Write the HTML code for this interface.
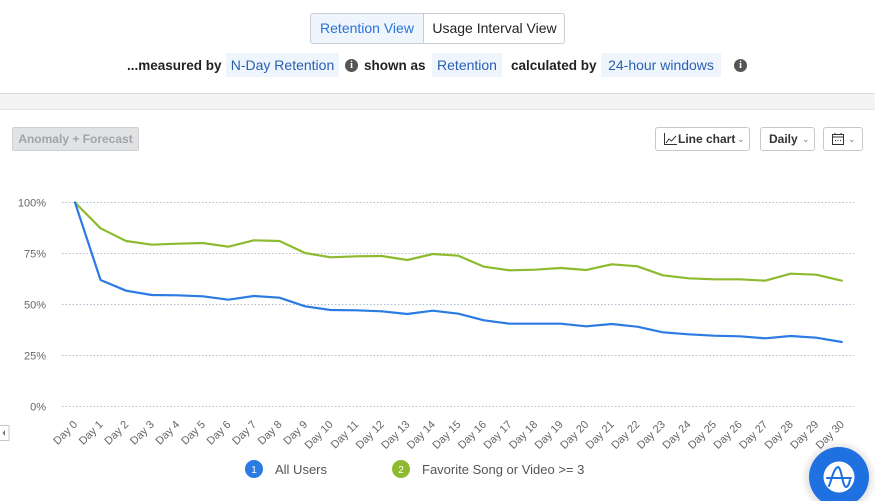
<!DOCTYPE html>
<html>
<head>
<meta charset="utf-8">
<style>
  html,body{margin:0;padding:0;background:#fff;}
  body{width:875px;height:501px;position:relative;overflow:hidden;font-family:"Liberation Sans",sans-serif;}
  .abs{position:absolute;}
  .toggle{left:310px;top:13px;width:255px;height:31px;border:1px solid #c9ccd1;border-radius:3px;box-sizing:border-box;overflow:hidden;}
  .toggle .a{position:absolute;left:0;top:0;width:112px;height:29px;background:#eef5fd;border-right:1px solid #c9ccd1;color:#2a73d6;font-size:14px;line-height:29px;text-align:center;}
  .toggle .b{position:absolute;left:113px;top:0;width:141px;height:29px;color:#222;font-size:14px;line-height:29px;text-align:center;}
  .lbl{font-size:13.5px;font-weight:bold;color:#222;top:57px;line-height:17px;}
  .pill{top:53px;height:24px;background:#eef5fd;color:#2a5fb0;font-size:14px;line-height:24px;text-align:center;}
  .info{width:13px;height:13px;border-radius:50%;background:#555;color:#fff;font-size:10px;font-weight:bold;line-height:13px;text-align:center;top:59px;font-family:"Liberation Serif",serif;}
  .band{left:0;top:93px;width:875px;height:17px;background:#f4f4f4;border-top:1px solid #dcdcdc;border-bottom:1px solid #e6e6e6;box-sizing:border-box;}
  .btn{top:127px;height:24px;border:1px solid #c8c8c8;border-radius:3px;box-sizing:border-box;background:#fff;font-size:12px;font-weight:bold;color:#333;line-height:22px;}
</style>
</head>
<body>
<div class="abs toggle"><div class="a">Retention View</div><div class="b">Usage Interval View</div></div>

<div class="abs lbl" style="left:127px;">...measured by</div>
<div class="abs pill" style="left:226px;width:113px;">N-Day Retention</div>
<div class="abs info" style="left:345px;">i</div>
<div class="abs lbl" style="left:364px;">shown as</div>
<div class="abs pill" style="left:432px;width:70px;">Retention</div>
<div class="abs lbl" style="left:511px;">calculated by</div>
<div class="abs pill" style="left:601px;width:120px;">24-hour windows</div>
<div class="abs info" style="left:734px;">i</div>

<div class="abs band"></div>

<div class="abs" style="left:12px;top:127px;width:127px;height:24px;background:#e1e2e4;border:1px solid #cfd0d2;border-radius:2px;box-sizing:border-box;color:#a2a4a8;font-size:12px;font-weight:bold;line-height:22px;text-align:center;">Anomaly + Forecast</div>

<div class="abs btn" style="left:655px;width:95px;">
  <svg class="abs" style="left:8px;top:5px;" width="13" height="12" viewBox="0 0 13 12"><path d="M0.5 0 V11.5 H13" fill="none" stroke="#333" stroke-width="1"/><path d="M2 10 L5 6 L7.5 8 L12 3" fill="none" stroke="#333" stroke-width="1"/></svg>
  <span class="abs" style="left:22px;top:0;">Line chart</span>
  <span class="abs" style="left:81px;top:0;font-weight:normal;color:#777;font-size:9px;">&#8964;</span>
</div>
<div class="abs btn" style="left:760px;width:55px;">
  <span class="abs" style="left:8px;top:0;">Daily</span>
  <span class="abs" style="left:41px;top:0;font-weight:normal;color:#777;font-size:9px;">&#8964;</span>
</div>
<div class="abs btn" style="left:823px;width:40px;">
  <svg class="abs" style="left:8px;top:5px;" width="12" height="12" viewBox="0 0 12 12"><rect x="0.5" y="1.5" width="11" height="10" fill="none" stroke="#333" stroke-width="1"/><line x1="0.5" y1="4" x2="11.5" y2="4" stroke="#333"/><line x1="3" y1="0" x2="3" y2="2" stroke="#333"/><line x1="9" y1="0" x2="9" y2="2" stroke="#333"/><rect x="3" y="7" width="1" height="1" fill="#333"/><rect x="5.5" y="7" width="1" height="1" fill="#333"/><rect x="8" y="7" width="1" height="1" fill="#333"/></svg>
  <span class="abs" style="left:24px;top:0;font-weight:normal;color:#777;font-size:9px;">&#8964;</span>
</div>

<svg class="abs" style="left:0;top:0;" width="875" height="501" viewBox="0 0 875 501">
  <g stroke="#aebfd0" stroke-width="1" stroke-dasharray="1.5,2">
    <line x1="62" y1="202.5" x2="854" y2="202.5"/>
    <line x1="62" y1="253.5" x2="854" y2="253.5"/>
    <line x1="62" y1="304.5" x2="854" y2="304.5"/>
    <line x1="62" y1="355.5" x2="854" y2="355.5"/>
    <line x1="62" y1="406.5" x2="854" y2="406.5"/>
  </g>
  <g font-family="Liberation Sans, sans-serif" font-size="11" fill="#666" text-anchor="end">
    <text x="46" y="206.5">100%</text>
    <text x="46" y="257.5">75%</text>
    <text x="46" y="308.5">50%</text>
    <text x="46" y="359.5">25%</text>
    <text x="46" y="410.5">0%</text>
  </g>
  <polyline fill="none" stroke="#8dba2e" stroke-width="2.2" stroke-linejoin="round" stroke-linecap="round"
    points="75,202.5 100.56,228.3 126.12,241 151.68,244.7 177.24,243.7 202.8,243 228.36,246.7 253.92,240.3 279.48,241 305.04,253 330.6,257.3 356.16,256.3 381.72,256 407.28,260 432.84,254 458.4,255.7 483.96,266.7 509.52,270.3 535.08,269.7 560.64,268 586.2,270 611.76,264.3 637.32,266.3 662.88,275.3 688.44,278.3 714,279.3 739.56,279.3 765.12,280.7 790.68,273.7 816.24,274.7 841.8,280.7"/>
  <polyline fill="none" stroke="#2b7be2" stroke-width="2.2" stroke-linejoin="round" stroke-linecap="round"
    points="75,202.5 100.56,280 126.12,290.7 151.68,295 177.24,295.3 202.8,296.3 228.36,299.7 253.92,296 279.48,297.7 305.04,306.3 330.6,310 356.16,310.3 381.72,311.3 407.28,314 432.84,310.7 458.4,313.7 483.96,320.3 509.52,323.7 535.08,323.7 560.64,323.7 586.2,326.3 611.76,324 637.32,326.7 662.88,332.3 688.44,334.3 714,335.7 739.56,336.3 765.12,338.3 790.68,336 816.24,337.7 841.8,342"/>
  <g font-family="Liberation Sans, sans-serif" font-size="11" fill="#666" text-anchor="end">
    <text transform="translate(78,425) rotate(-45)">Day 0</text>
    <text transform="translate(103.56,425) rotate(-45)">Day 1</text>
    <text transform="translate(129.12,425) rotate(-45)">Day 2</text>
    <text transform="translate(154.68,425) rotate(-45)">Day 3</text>
    <text transform="translate(180.24,425) rotate(-45)">Day 4</text>
    <text transform="translate(205.8,425) rotate(-45)">Day 5</text>
    <text transform="translate(231.36,425) rotate(-45)">Day 6</text>
    <text transform="translate(256.92,425) rotate(-45)">Day 7</text>
    <text transform="translate(282.48,425) rotate(-45)">Day 8</text>
    <text transform="translate(308.04,425) rotate(-45)">Day 9</text>
    <text transform="translate(333.6,425) rotate(-45)">Day 10</text>
    <text transform="translate(359.16,425) rotate(-45)">Day 11</text>
    <text transform="translate(384.72,425) rotate(-45)">Day 12</text>
    <text transform="translate(410.28,425) rotate(-45)">Day 13</text>
    <text transform="translate(435.84,425) rotate(-45)">Day 14</text>
    <text transform="translate(461.4,425) rotate(-45)">Day 15</text>
    <text transform="translate(486.96,425) rotate(-45)">Day 16</text>
    <text transform="translate(512.52,425) rotate(-45)">Day 17</text>
    <text transform="translate(538.08,425) rotate(-45)">Day 18</text>
    <text transform="translate(563.64,425) rotate(-45)">Day 19</text>
    <text transform="translate(589.2,425) rotate(-45)">Day 20</text>
    <text transform="translate(614.76,425) rotate(-45)">Day 21</text>
    <text transform="translate(640.32,425) rotate(-45)">Day 22</text>
    <text transform="translate(665.88,425) rotate(-45)">Day 23</text>
    <text transform="translate(691.44,425) rotate(-45)">Day 24</text>
    <text transform="translate(717,425) rotate(-45)">Day 25</text>
    <text transform="translate(742.56,425) rotate(-45)">Day 26</text>
    <text transform="translate(768.12,425) rotate(-45)">Day 27</text>
    <text transform="translate(793.68,425) rotate(-45)">Day 28</text>
    <text transform="translate(819.24,425) rotate(-45)">Day 29</text>
    <text transform="translate(844.8,425) rotate(-45)">Day 30</text>
  </g>
  <rect x="-1" y="425.5" width="10" height="15" fill="#fff" stroke="#c8c8c8"/>
  <path d="M5 430 L2.5 433 L5 436 Z" fill="#777"/>
  <circle cx="254" cy="469" r="9" fill="#2b7be2"/>
  <text x="254" y="473" font-family="Liberation Sans, sans-serif" font-size="10" fill="#fff" text-anchor="middle">1</text>
  <text x="275" y="474" font-family="Liberation Sans, sans-serif" font-size="13" fill="#555">All Users</text>
  <circle cx="401" cy="469" r="9" fill="#8dba2e"/>
  <text x="401" y="473" font-family="Liberation Sans, sans-serif" font-size="10" fill="#fff" text-anchor="middle">2</text>
  <text x="422" y="474" font-family="Liberation Sans, sans-serif" font-size="13" fill="#555">Favorite Song or Video &gt;= 3</text>
  <defs>
    <radialGradient id="sh" cx="0.5" cy="0.5" r="0.5">
      <stop offset="0.75" stop-color="#000" stop-opacity="0.12"/>
      <stop offset="1" stop-color="#000" stop-opacity="0"/>
    </radialGradient>
  </defs>
  <circle cx="839" cy="478" r="38" fill="url(#sh)"/>
  <circle cx="839" cy="477" r="30" fill="#1f70e0"/>
  <circle cx="839" cy="477" r="15.5" fill="#fff"/>
  <path d="M829 486 C832 478 834 468 838 467 C842 468 842 486 846 487 C848 487 849 484 850 480" fill="none" stroke="#1f70e0" stroke-width="2" stroke-linecap="round"/>
  <line x1="827" y1="478" x2="851" y2="478" stroke="#1f70e0" stroke-width="2" stroke-linecap="round"/>
</svg>
</body>
</html>
